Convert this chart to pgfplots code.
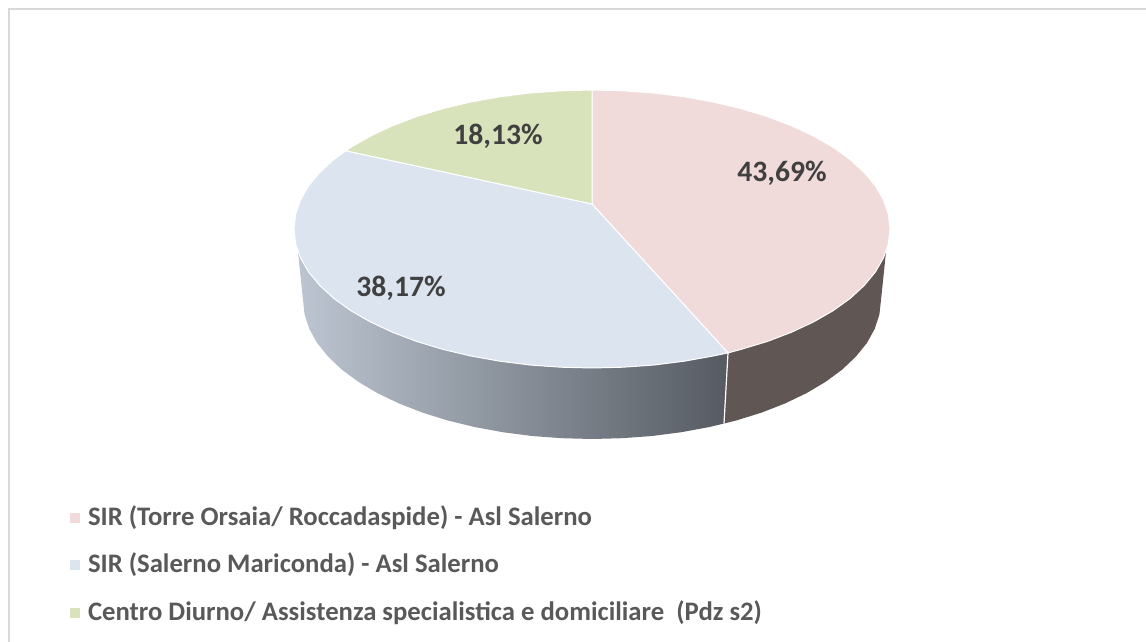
\documentclass[border=0pt]{standalone}
\usepackage{fontspec}
\setmainfont{Carlito}
\usepackage{pgfplots}
\pgfplotsset{compat=1.18}
\definecolor{cpink}{HTML}{F0DADA}
\definecolor{cblue}{HTML}{DBE4EF}
\definecolor{cgreen}{HTML}{D8E3BB}
\definecolor{cbrown}{HTML}{605654}
\definecolor{labelc}{HTML}{404040}
\definecolor{legc}{HTML}{595959}
\definecolor{bord}{HTML}{D9D9D9}
\definecolor{sideL}{HTML}{BCC5D1}
\definecolor{sideM}{HTML}{979EA8}
\definecolor{sideR}{HTML}{565B62}
\begin{document}
\begin{tikzpicture}
\useasboundingbox (0,0) rectangle (1146pt,642pt);
\begin{axis}[
  width=1146pt, height=642pt, scale only axis,
  xmin=0, xmax=1146, ymin=0, ymax=642, y dir=reverse,
  hide axis, clip=true,
  legend cell align=left,
  legend style={at={(axis cs:70,506)}, anchor=north west, draw=none, fill=none,
    inner sep=0pt, outer sep=0pt, row sep=18.6pt,
    font=\fontsize{26.7}{27}\selectfont\bfseries\color{legc},
    nodes={inner sep=0pt, outer sep=0pt, text height=19pt, text depth=10pt}},
  legend image code/.code={\fill[#1, draw=none] (0pt,-2pt) rectangle (9.5pt,8pt);\path[draw=none, fill=none] (0pt,0pt) -- (18pt,0pt);},
]
% frame
\addplot[bord, line width=2pt, forget plot] coordinates {(1146,9) (9,9) (9,642)};
% blue side
\addplot[forget plot, draw=none, shade, shading=axis, left color=sideL, middle color=sideM, right color=sideR]
coordinates {(297.8,250) (300.5,257.9) (308.6,272) (319.8,285.5) (333.9,298.5) (350.9,310.7) (370.6,322) (392.6,332.3) (416.8,341.5) (443,349.4) (470.8,356) (499.9,361.2) (530,365) (560.9,367.2) (592,368) (623.1,367.2) (654,365) (684.1,361.2) (713.2,356) (728,352.9)
(724,423.5) (709.5,427) (681.3,432.2) (652.1,436) (622.2,438.2) (592,439) (561.8,438.2) (531.9,436) (502.7,432.2) (474.5,427) (447.5,420.4) (422.1,412.5) (398.6,403.3) (377.2,393) (358.2,381.7) (341.7,369.5) (328,356.5) (317.1,343) (309.3,328.9) (304.6,314.5) (303,300)} --cycle;
% brown side
\addplot[forget plot, draw=none, fill=cbrown]
coordinates {(728,352.9) (741,349.4) (767.2,341.5) (791.4,332.3) (813.4,322) (833.1,310.7) (850.1,298.5) (864.2,285.5) (875.4,272) (883.5,257.9) (886.2,250)
(881,300) (879.4,314.5) (874.7,328.9) (866.9,343) (856,356.5) (842.3,369.5) (825.8,381.7) (806.8,393) (785.4,403.3) (761.9,412.5) (736.5,420.4) (724,423.5)} --cycle;
\addplot[forget plot, white, line width=1.2pt] coordinates {(728,352.9) (724,423.5)};
% SIR Torre Orsaia 43,69
\addplot[draw=white, line width=1pt, fill=cpink]
coordinates {(592,204) (592,90) (623.1,90.8) (654,93) (684.1,96.8) (713.2,102) (741,108.6) (767.2,116.5) (791.4,125.7) (813.4,136) (833.1,147.3) (850.1,159.5) (864.2,172.5) (875.4,186) (883.5,200.1) (888.4,214.5) (890,229)
(888.4,243.5) (883.5,257.9) (875.4,272) (864.2,285.5) (850.1,298.5) (833.1,310.7) (813.4,322) (791.4,332.3) (767.2,341.5) (741,349.4) (728,352.9)} --cycle;
\addlegendentry{SIR (Torre Orsaia/ Roccadaspide) - Asl Salerno}
% SIR Salerno Mariconda 38,17
\addplot[draw=white, line width=1pt, fill=cblue]
coordinates {(592,204) (728,352.9) (713.2,356) (684.1,361.2) (654,365) (623.1,367.2) (592,368) (560.9,367.2) (530,365) (499.9,361.2) (470.8,356) (443,349.4) (416.8,341.5) (392.6,332.3) (370.6,322) (350.9,310.7) (333.9,298.5) (319.8,285.5) (308.6,272) (300.5,257.9) (295.6,243.5) (294,229)
(295.6,214.5) (300.5,200.1) (308.6,186) (319.8,172.5) (333.9,159.5) (346,150.8)} --cycle;
\addlegendentry{SIR (Salerno Mariconda) - Asl Salerno}
% Centro Diurno 18,13
\addplot[draw=white, line width=1pt, fill=cgreen]
coordinates {(592,204) (346,150.8) (350.9,147.3) (370.6,136) (392.6,125.7) (416.8,116.5) (443,108.6) (470.8,102) (499.9,96.8) (530,93) (560.9,90.8) (592,90)} --cycle;
\addlegendentry{Centro Diurno/ Assistenza specialistica e domiciliare \ (Pdz s2)}
\node[font=\fontsize{29.6}{30}\selectfont\bfseries, text=labelc] at (axis cs:782,173) {43,69\%};
\node[font=\fontsize{29.6}{30}\selectfont\bfseries, text=labelc] at (axis cs:401,288) {38,17\%};
\node[font=\fontsize{29.6}{30}\selectfont\bfseries, text=labelc] at (axis cs:498,136) {18,13\%};
\end{axis}
\end{tikzpicture}
\end{document}
